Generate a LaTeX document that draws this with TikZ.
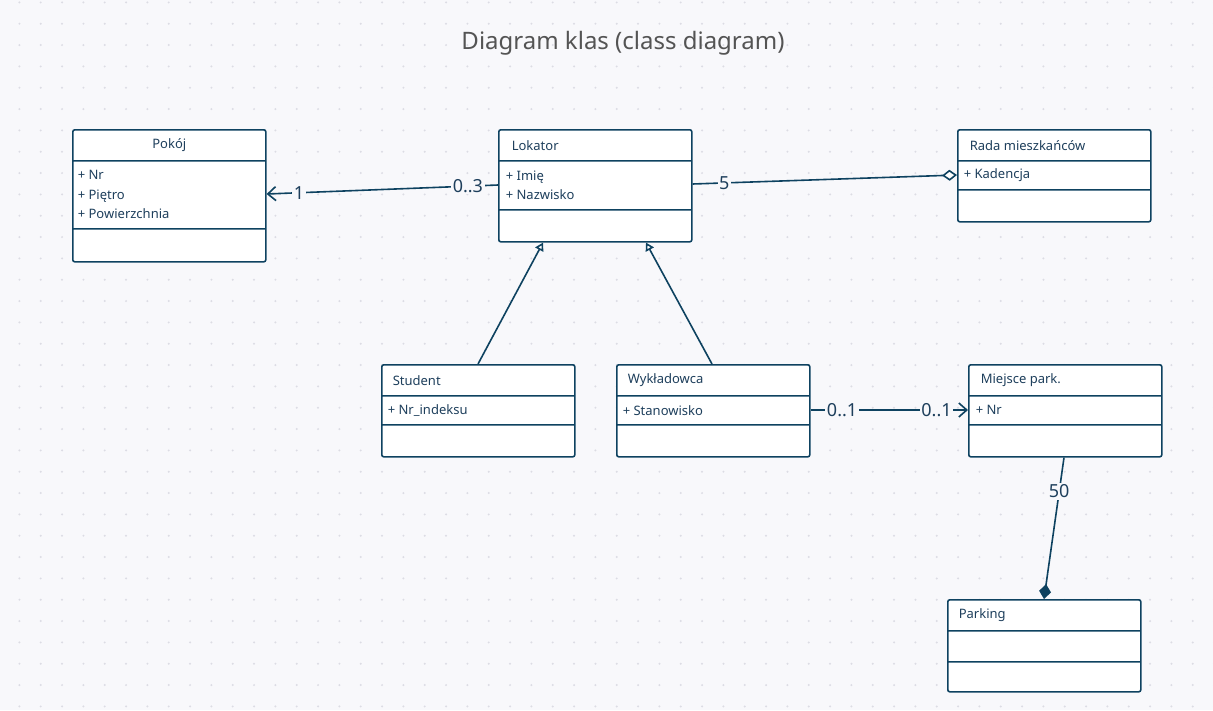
\documentclass[tikz,border=0pt]{standalone}
\usepackage{fontspec}
\setmainfont{Noto Sans}
\usetikzlibrary{arrows.meta, shapes.multipart}
\definecolor{umlline}{HTML}{0E4260}
\definecolor{umltext}{HTML}{1E3F5C}
\definecolor{canvas}{HTML}{F8F8FB}
\definecolor{griddot}{HTML}{DCDCE4}
\newcommand{\umlpart}[3]{\parbox[c][\dimexpr#1-1.6pt\relax][c]{193pt}{\setlength{\leftskip}{#2}#3}}

\begin{document}
\begin{tikzpicture}[
        x=1pt, y=-1pt,
        umlclass/.style={rectangle split, rectangle split parts=3, draw=umlline, line width=1.6pt, fill=white, rounded corners=2pt, inner sep=0pt, anchor=north west, text=umltext, font=\fontsize{13pt}{19.5pt}\selectfont},
        link/.style={draw=umlline, line width=1.6pt},
        mult/.style={fill=canvas, inner sep=1.5pt, text=umltext, font=\fontsize{18pt}{20pt}\selectfont},
        barb/.style={-{Straight Barb[length=8pt, width=14pt]}},
        aggr/.style={-{Diamond[fill=white, length=15pt, width=11pt]}},
        comp/.style={-{Diamond[fill=umlline, length=15pt, width=12pt]}},
        inherit/.style={-{Triangle[fill=white, length=8pt, width=9pt]}}
    ]
        \fill[canvas] (0,0) rectangle (1213,710);
        \useasboundingbox (0,0) rectangle (1213,710);
        \foreach \i in {0,...,56} {
            \foreach \j in {0,...,33} {
                \fill[griddot] ({19.4+64/3*\i},{2.4+64/3*\j}) circle (1.1pt);
            }
        }
        \node[text=black!67, font=\fontsize{24pt}{28pt}\selectfont] (title) at (623,43) {Diagram klas (class diagram)};

        \node[umlclass] (pokoj) at (72,129) {\umlpart{31pt}{0pt}{\centering Pokój}
            \nodepart{two}\umlpart{68pt}{5pt}{+ Nr\\+ Piętro\\+ Powierzchnia}
            \nodepart{three}\umlpart{33pt}{0pt}{}};
        \node[umlclass] (lokator) at (498,129) {\umlpart{31pt}{13pt}{Lokator}
            \nodepart{two}\umlpart{49pt}{7pt}{+ Imię\\+ Nazwisko}
            \nodepart{three}\umlpart{32pt}{0pt}{}};
        \node[umlclass] (rada) at (957,129) {\umlpart{31pt}{12pt}{Rada mieszkańców}
            \nodepart{two}\umlpart{29pt}{6pt}{+ Kadencja}
            \nodepart{three}\umlpart{32pt}{0pt}{}};
        \node[umlclass] (student) at (381,364) {\umlpart{31pt}{11pt}{Student}
            \nodepart{two}\umlpart{29pt}{6pt}{+ Nr\_indeksu}
            \nodepart{three}\umlpart{32pt}{0pt}{}};
        \node[umlclass] (wykladowca) at (616,364) {\umlpart{31pt}{11pt}{Wykładowca}
            \nodepart{two}\umlpart{29pt}{6pt}{+ Stanowisko}
            \nodepart{three}\umlpart{32pt}{0pt}{}};
        \node[umlclass] (miejsce) at (968,364) {\umlpart{31pt}{12pt}{Miejsce park.}
            \nodepart{two}\umlpart{29pt}{7pt}{+ Nr}
            \nodepart{three}\umlpart{32pt}{0pt}{}};
        \node[umlclass] (parking) at (947,599) {\umlpart{31pt}{11pt}{Parking}
            \nodepart{two}\umlpart{31pt}{0pt}{}
            \nodepart{three}\umlpart{30pt}{0pt}{}};

        \draw[link, barb] ([yshift=-56pt]lokator.north west) -- node[mult, pos=0.13] {0..3} node[mult, pos=0.86] {1} ([yshift=-65pt]pokoj.north east);
        \draw[link, aggr] ([yshift=-55pt]lokator.north east) -- node[mult, pos=0.12] {5} ([yshift=-46pt]rada.north west);
        \draw[link, inherit] ([xshift=97pt]student.north west) -- ([xshift=45pt]lokator.south west);
        \draw[link, inherit] ([xshift=96pt]wykladowca.north west) -- ([xshift=148pt]lokator.south west);
        \draw[link, barb] ([yshift=-46pt]wykladowca.north east) -- node[mult, pos=0.2] {0..1} node[mult, pos=0.8] {0..1} ([yshift=-46pt]miejsce.north west);
        \draw[link, comp] ([xshift=96pt]miejsce.south west) -- node[mult, pos=0.24] {50} ([xshift=97pt]parking.north west);
    \end{tikzpicture}
\end{document}
